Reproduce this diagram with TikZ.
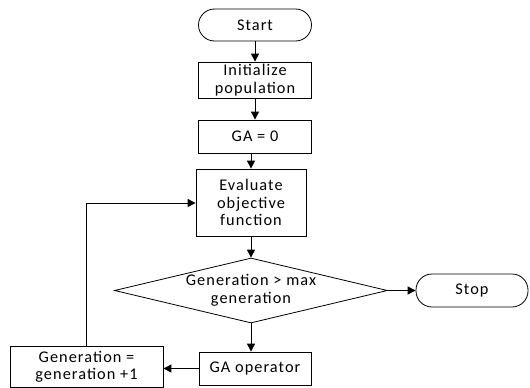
\documentclass[tikz,border=0pt]{standalone}
\usepackage{fontspec}
\setmainfont{Carlito}[LetterSpace=6.5]
\usetikzlibrary{shapes.geometric,arrows.meta}
\begin{document}
\begin{tikzpicture}[x=1pt,y=-1pt,
  every node/.style={font=\fontsize{16.3}{17.5}\selectfont, align=center, inner sep=0pt},
  proc/.style={draw, line width=0.8pt, minimum width=113pt},
  term/.style={draw, line width=0.8pt, rounded corners=16pt, minimum width=113pt, minimum height=32pt},
  dec/.style={draw, line width=0.8pt, diamond, aspect=4.2, minimum width=273pt, minimum height=65pt},
  arr/.style={line width=1pt, -{Triangle[length=8pt,width=8pt]}}]
\useasboundingbox (0,0) rectangle (530,388);
\node[term] (start) at (255,25) {Start};
\node[proc, minimum height=36pt] (init) at (255,80) {Initialize\\population};
\node[proc, minimum height=33pt] (ga) at (255,136.5) {GA = 0};
\node[proc, minimum width=110pt, minimum height=67pt] (eval) at (251,202.5) {Evaluate\\objective\\function};
\node[dec] (dec) at (251,290.5) {Generation > max\\generation};
\node[term, minimum width=112pt, minimum height=33pt] (stop) at (472,290.5) {Stop};
\node[proc, minimum width=112pt, minimum height=33pt] (op) at (255,368.5) {GA operator};
\node[proc, minimum width=153pt, minimum height=41pt] (gen) at (86.5,367) {Generation =\\generation +1};
\coordinate (corner) at (86,203);
\draw[arr] (start) -- (init);
\draw[arr] (init) -- (ga);
\draw[arr] (ga.south -| eval.north) -- (eval.north);
\draw[arr] (eval) -- (dec);
\draw[arr] (dec) -- (stop);
\draw[arr] (dec.south) -- (dec.south |- op.north);
\draw[arr] (op.west) -- (gen.east |- op.west);
\draw[arr] (gen.north -| corner) -- (corner) -- (eval.west |- corner);
\end{tikzpicture}
\end{document}
